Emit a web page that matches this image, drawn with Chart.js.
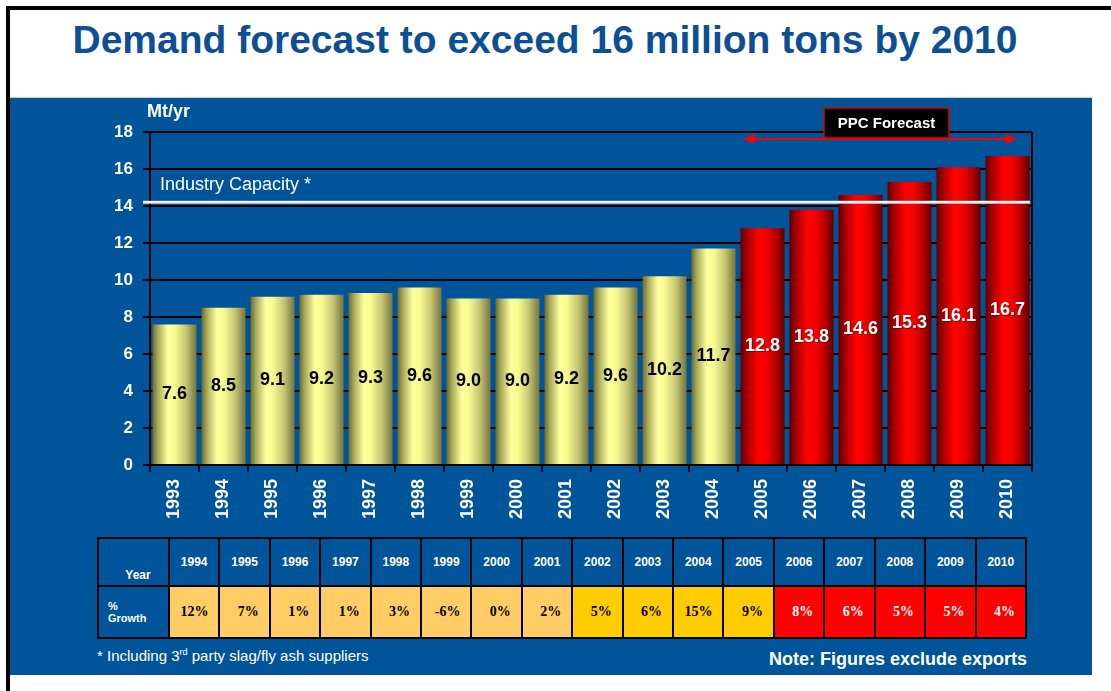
<!DOCTYPE html>
<html>
<head>
<meta charset="utf-8">
<script src="https://cdn.jsdelivr.net/npm/chart.js@4.4.0/dist/chart.umd.min.js"></script>
<style>
  body { margin: 0; width: 1111px; height: 691px; background: #fff; position: relative; overflow: hidden; font-family: "Liberation Sans", Arial, sans-serif; }
  .frame-top { position: absolute; left: 6px; top: 6px; width: 1105px; height: 4px; background: #000; }
  .frame-left { position: absolute; left: 6px; top: 6px; width: 4px; height: 685px; background: #000; }
  .title { position: absolute; left: 0; width: 1090px; top: 18px; text-align: center; color: #0d4f94; font-weight: bold; font-size: 39px; white-space: nowrap; }
  .panel { position: absolute; left: 10px; top: 97px; width: 1082px; height: 577px; background: #00549a; border-top: 1px solid #d0d0d0; }
  .chart-box { position: absolute; left: 10px; top: 97px; width: 1082px; height: 440px; }
  table.growth { position: absolute; left: 97px; top: 537px; border-collapse: collapse; table-layout: fixed; width: 930px; }
  table.growth td { border: 2px solid #000; padding: 0; font-weight: bold; }
  table.growth tr.head td { height: 43px; color: #fff; font-size: 12px; text-align: center; }
  table.growth tr.vals td { height: 50px; font-family: "Liberation Serif", serif; font-size: 14px; text-align: right; padding-right: 10px; }
  table.growth td.rowhead { color: #fff; font-family: "Liberation Sans", Arial, sans-serif; font-size: 11px; text-align: left; padding-left: 9px; }
  table.growth tr.head td.rowhead { vertical-align: bottom; padding-bottom: 3px; }
  table.growth tr.vals td.rowhead { font-size: 11px; text-align: left; padding-left: 9px; font-family: "Liberation Sans", Arial, sans-serif; }
  .foot { position: absolute; left: 97px; top: 647px; color: #fff; font-size: 15px; }
  .foot sup { font-size: 9px; }
  .note { position: absolute; right: 84px; top: 649px; color: #fff; font-size: 18px; font-weight: bold; }
</style>
</head>
<body>
<div class="frame-top"></div>
<div class="frame-left"></div>
<div class="title">Demand forecast to exceed 16 million tons by 2010</div>
<div class="panel"></div>
<div class="chart-box"><canvas id="demandChart"></canvas></div>
<table class="growth" id="growthTable"></table>
<div class="foot">* Including 3<sup>rd</sup> party slag/fly ash suppliers</div>
<div class="note">Note: Figures exclude exports</div>

<script>
// chart data
const years = ['1993', '1994', '1995', '1996', '1997', '1998', '1999', '2000', '2001',
               '2002', '2003', '2004', '2005', '2006', '2007', '2008', '2009', '2010'];
const demand = [7.6, 8.5, 9.1, 9.2, 9.3, 9.6, 9.0, 9.0, 9.2, 9.6, 10.2, 11.7, 12.8, 13.8, 14.6, 15.3, 16.1, 16.7];
const forecastFrom = '2005';
const capacity = 14.2;
const yMax = 18;
const yStep = 2;

// growth table data
const growthYears = ['1994', '1995', '1996', '1997', '1998', '1999', '2000', '2001',
                     '2002', '2003', '2004', '2005', '2006', '2007', '2008', '2009', '2010'];
const growthPct = [12, 7, 1, 1, 3, -6, 0, 2, 5, 6, 15, 9, 8, 6, 5, 5, 4];

const forecastIndex = years.indexOf(forecastFrom);
const FONT = '"Liberation Sans", Arial, sans-serif';

// ==================== GROWTH TABLE ====================
function cellColor(year) {
    const y = parseInt(year, 10);
    if (y >= 2006) return { bg: '#ff0000', fg: '#fff' };
    if (y >= 2002) return { bg: '#ffcc00', fg: '#000' };
    return { bg: '#ffcc66', fg: '#000' };
}
(function buildTable() {
    const table = document.getElementById('growthTable');
    let cols = '<colgroup><col style="width:71px">';
    growthYears.forEach(() => { cols += '<col>'; });
    cols += '</colgroup>';
    let head = '<tr class="head"><td class="rowhead">Year</td>';
    let vals = '<tr class="vals"><td class="rowhead">%<br>Growth</td>';
    growthYears.forEach((y, i) => {
        const c = cellColor(y);
        head += '<td>' + y + '</td>';
        vals += '<td style="background:' + c.bg + ';color:' + c.fg + '">' + growthPct[i] + '%</td>';
    });
    table.innerHTML = cols + head + '</tr>' + vals + '</tr>';
})();

// ==================== BAR FILLS ====================
const yellowStops = [[0, '#68682f'], [0.12, '#a8a85a'], [0.35, '#ffff9e'], [0.5, '#fafa92'], [0.75, '#c8c874'], [1, '#747440']];
const redStops = [[0, '#5e0000'], [0.14, '#a00000'], [0.4, '#ff0000'], [0.58, '#f60000'], [0.82, '#b00000'], [1, '#600000']];

function barFill(context) {
    const chart = context.chart;
    const area = chart.chartArea;
    const stops = context.dataIndex >= forecastIndex ? redStops : yellowStops;
    if (!area) return stops[2][1];
    const x = chart.scales.x.getPixelForValue(context.dataIndex);
    const half = area.width / years.length * 0.9 / 2;
    const g = chart.ctx.createLinearGradient(x - half, 0, x + half, 0);
    stops.forEach(s => g.addColorStop(s[0], s[1]));
    return g;
}

// ==================== PLUGINS ====================
const frameRight = {
    id: 'frameRight',
    beforeDatasetsDraw(chart) {
        const { ctx, chartArea } = chart;
        ctx.save();
        ctx.strokeStyle = '#000';
        ctx.lineWidth = 2;
        ctx.beginPath();
        ctx.moveTo(chartArea.right, chartArea.top);
        ctx.lineTo(chartArea.right, chartArea.bottom);
        ctx.stroke();
        ctx.restore();
    }
};

const valueLabels = {
    id: 'valueLabels',
    afterDatasetsDraw(chart) {
        const { ctx } = chart;
        const meta = chart.getDatasetMeta(0);
        ctx.save();
        ctx.font = 'bold 18px ' + FONT;
        ctx.textAlign = 'center';
        ctx.textBaseline = 'middle';
        meta.data.forEach((bar, i) => {
            const y = (bar.y + bar.base) / 2;
            if (i >= forecastIndex) {
                ctx.fillStyle = 'rgba(80,0,0,0.6)';
                ctx.fillText(demand[i].toFixed(1), bar.x + 1, y + 1);
                ctx.fillStyle = '#fff';
            } else {
                ctx.fillStyle = '#000';
            }
            ctx.fillText(demand[i].toFixed(1), bar.x, y);
        });
        ctx.restore();
    }
};

const capacityLine = {
    id: 'capacityLine',
    afterDatasetsDraw(chart) {
        const { ctx, chartArea, scales } = chart;
        const y = scales.y.getPixelForValue(capacity);
        ctx.save();
        ctx.strokeStyle = '#d8d8e0';
        ctx.lineWidth = 3;
        ctx.beginPath();
        ctx.moveTo(chartArea.left - 7, y);
        ctx.lineTo(chartArea.right - 2, y);
        ctx.stroke();
        ctx.strokeStyle = '#ffffff';
        ctx.lineWidth = 1.5;
        ctx.beginPath();
        ctx.moveTo(chartArea.left - 7, y - 0.5);
        ctx.lineTo(chartArea.right - 2, y - 0.5);
        ctx.stroke();
        ctx.fillStyle = '#fff';
        ctx.font = '18px ' + FONT;
        ctx.textAlign = 'left';
        ctx.textBaseline = 'alphabetic';
        ctx.fillText('Industry Capacity *', chartArea.left + 10, y - 12);
        ctx.restore();
    }
};

const forecastMarker = {
    id: 'forecastMarker',
    afterDatasetsDraw(chart) {
        const { ctx, chartArea, scales } = chart;
        const catW = chartArea.width / years.length;
        const x1 = scales.x.getPixelForValue(forecastIndex) - 0.4 * catW;
        const x2 = scales.x.getPixelForValue(years.length - 1) + 0.2 * catW;
        const y = chartArea.top + 7;
        ctx.save();
        ctx.strokeStyle = '#ff0000';
        ctx.fillStyle = '#ff0000';
        ctx.lineWidth = 2;
        ctx.beginPath();
        ctx.moveTo(x1 + 8, y);
        ctx.lineTo(x2 - 8, y);
        ctx.stroke();
        ctx.beginPath();
        ctx.moveTo(x1, y); ctx.lineTo(x1 + 12, y - 5); ctx.lineTo(x1 + 12, y + 5); ctx.closePath();
        ctx.fill();
        ctx.beginPath();
        ctx.moveTo(x2, y); ctx.lineTo(x2 - 12, y - 5); ctx.lineTo(x2 - 12, y + 5); ctx.closePath();
        ctx.fill();
        // label box
        const bx = 814, bw = 125, by = chartArea.top - 24, bh = 30;
        ctx.fillStyle = '#000';
        ctx.fillRect(bx, by, bw, bh);
        ctx.strokeStyle = '#e00000';
        ctx.lineWidth = 1.5;
        ctx.strokeRect(bx, by, bw, bh);
        ctx.fillStyle = '#fff';
        ctx.font = 'bold 15px ' + FONT;
        ctx.textAlign = 'center';
        ctx.textBaseline = 'middle';
        ctx.fillText('PPC Forecast', bx + bw / 2, by + bh / 2 + 1);
        // unit label
        ctx.textAlign = 'left';
        ctx.textBaseline = 'alphabetic';
        ctx.font = 'bold 18px ' + FONT;
        ctx.fillText('Mt/yr', chartArea.left - 3, chartArea.top - 15);
        ctx.restore();
    }
};

// ==================== DEMAND CHART ====================
new Chart(document.getElementById('demandChart'), {
    type: 'bar',
    data: {
        labels: years,
        datasets: [{
            data: demand,
            backgroundColor: barFill,
            borderWidth: 0,
            categoryPercentage: 0.9,
            barPercentage: 1
        }]
    },
    options: {
        responsive: true,
        maintainAspectRatio: false,
        animation: false,
        layout: { padding: { top: 35, right: 60, left: 0, bottom: 0 } },
        plugins: {
            legend: { display: false },
            tooltip: { enabled: false }
        },
        scales: {
            x: {
                afterFit: scale => { scale.height = 72; },
                grid: { drawOnChartArea: false, offset: true, tickLength: 7, color: '#000', lineWidth: 2 },
                border: { color: '#000', width: 2 },
                ticks: {
                    color: '#fff',
                    font: { family: FONT, size: 18, weight: 'bold' },
                    minRotation: 90,
                    maxRotation: 90,
                    autoSkip: false,
                    padding: 7
                }
            },
            y: {
                min: 0,
                max: yMax,
                afterFit: scale => { scale.width = 140; },
                grid: { color: '#000', lineWidth: 2, tickLength: 7 },
                border: { color: '#000', width: 2 },
                ticks: {
                    stepSize: yStep,
                    color: '#fff',
                    font: { family: FONT, size: 17, weight: 'bold' },
                    padding: 10
                }
            }
        }
    },
    plugins: [frameRight, valueLabels, capacityLine, forecastMarker]
});
</script>
</body>
</html>
